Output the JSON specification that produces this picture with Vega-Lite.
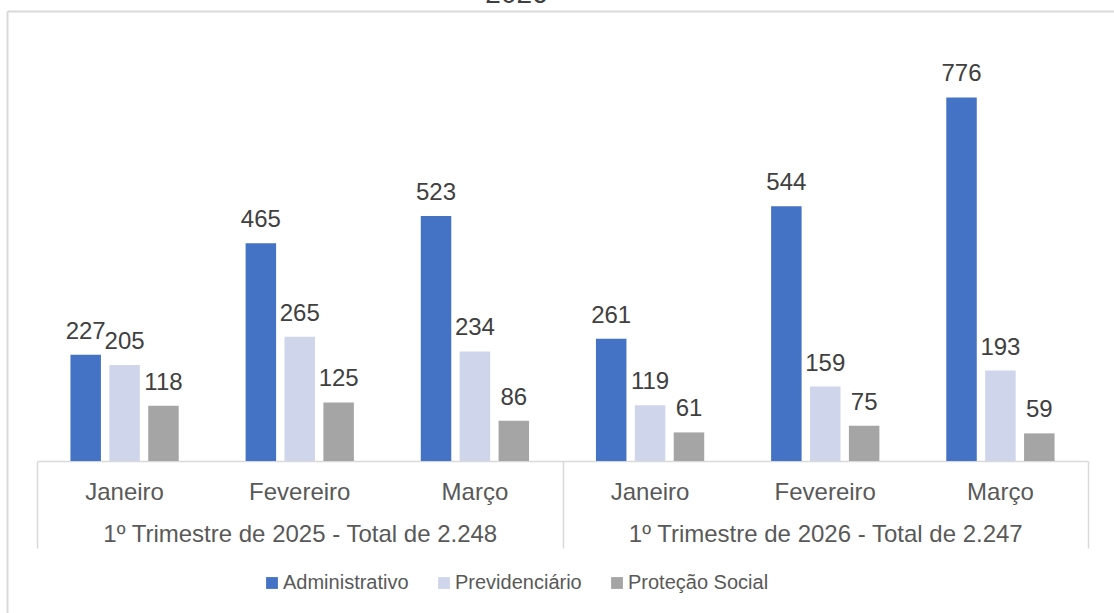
{
  "$schema": "https://vega.github.io/schema/vega-lite/v6.json",
  "width": 1107,
  "height": 602,
  "autosize": "none",
  "padding": {"left": 7, "top": 11, "right": 0, "bottom": 0},
  "background": "white",
  "title": {
    "text": "2026",
    "orient": "top",
    "anchor": "middle",
    "frame": "group",
    "baseline": "alphabetic",
    "offset": 0,
    "dy": 20,
    "dx": -44,
    "font": "Liberation Sans",
    "fontSize": 28,
    "fontWeight": "normal",
    "color": "#404040"
  },
  "data": {
    "values": [
      {"tri": "1º Trimestre de 2025 - Total de 2.248", "key": "2025|Janeiro", "serie": "Administrativo", "valor": 227},
      {"tri": "1º Trimestre de 2025 - Total de 2.248", "key": "2025|Janeiro", "serie": "Previdenciário", "valor": 205},
      {"tri": "1º Trimestre de 2025 - Total de 2.248", "key": "2025|Janeiro", "serie": "Proteção Social", "valor": 118},
      {"tri": "1º Trimestre de 2025 - Total de 2.248", "key": "2025|Fevereiro", "serie": "Administrativo", "valor": 465},
      {"tri": "1º Trimestre de 2025 - Total de 2.248", "key": "2025|Fevereiro", "serie": "Previdenciário", "valor": 265},
      {"tri": "1º Trimestre de 2025 - Total de 2.248", "key": "2025|Fevereiro", "serie": "Proteção Social", "valor": 125},
      {"tri": "1º Trimestre de 2025 - Total de 2.248", "key": "2025|Março", "serie": "Administrativo", "valor": 523},
      {"tri": "1º Trimestre de 2025 - Total de 2.248", "key": "2025|Março", "serie": "Previdenciário", "valor": 234},
      {"tri": "1º Trimestre de 2025 - Total de 2.248", "key": "2025|Março", "serie": "Proteção Social", "valor": 86},
      {"tri": "1º Trimestre de 2026 - Total de 2.247", "key": "2026|Janeiro", "serie": "Administrativo", "valor": 261},
      {"tri": "1º Trimestre de 2026 - Total de 2.247", "key": "2026|Janeiro", "serie": "Previdenciário", "valor": 119},
      {"tri": "1º Trimestre de 2026 - Total de 2.247", "key": "2026|Janeiro", "serie": "Proteção Social", "valor": 61},
      {"tri": "1º Trimestre de 2026 - Total de 2.247", "key": "2026|Fevereiro", "serie": "Administrativo", "valor": 544},
      {"tri": "1º Trimestre de 2026 - Total de 2.247", "key": "2026|Fevereiro", "serie": "Previdenciário", "valor": 159},
      {"tri": "1º Trimestre de 2026 - Total de 2.247", "key": "2026|Fevereiro", "serie": "Proteção Social", "valor": 75},
      {"tri": "1º Trimestre de 2026 - Total de 2.247", "key": "2026|Março", "serie": "Administrativo", "valor": 776},
      {"tri": "1º Trimestre de 2026 - Total de 2.247", "key": "2026|Março", "serie": "Previdenciário", "valor": 193},
      {"tri": "1º Trimestre de 2026 - Total de 2.247", "key": "2026|Março", "serie": "Proteção Social", "valor": 59}
    ]
  },
  "layer": [
    {
      "encoding": {
        "x": {
          "field": "key",
          "type": "nominal",
          "sort": null,
          "scale": {"range": [30, 1081], "paddingInner": 0, "paddingOuter": 0},
          "axis": {
            "orient": "bottom",
            "offset": -152,
            "title": null,
            "ticks": false,
            "grid": false,
            "domain": true,
            "domainColor": "#d9d9d9",
            "domainWidth": 1.5,
            "labelAngle": 0,
            "labelExpr": "split(datum.value, '|')[1]",
            "labelFont": "Liberation Sans",
            "labelFontSize": 24,
            "labelColor": "#595959",
            "labelPadding": 19
          }
        },
        "xOffset": {
          "field": "serie",
          "type": "nominal",
          "sort": ["Administrativo", "Previdenciário", "Proteção Social"],
          "scale": {"paddingInner": 0.216, "paddingOuter": 0.86}
        },
        "y": {
          "field": "valor",
          "type": "quantitative",
          "scale": {"domain": [0, 900], "range": [450, 28.4], "nice": false, "zero": true},
          "axis": null
        }
      },
      "layer": [
        {
          "mark": {"type": "bar"},
          "encoding": {
            "color": {
              "field": "serie",
              "type": "nominal",
              "sort": ["Administrativo", "Previdenciário", "Proteção Social"],
              "scale": {
                "domain": ["Administrativo", "Previdenciário", "Proteção Social"],
                "range": ["#4472C4", "#CFD5EA", "#A5A5A5"]
              },
              "legend": {
                "title": null,
                "orient": "none",
                "direction": "horizontal",
                "legendX": 255,
                "legendY": 562,
                "symbolType": "square",
                "symbolSize": 140,
                "symbolStrokeWidth": 0,
                "labelFont": "Liberation Sans",
                "labelFontSize": 20,
                "labelColor": "#595959",
                "labelOffset": 1,
                "columnPadding": 25
              }
            }
          }
        },
        {
          "mark": {
            "type": "text",
            "dy": -16,
            "align": "center",
            "baseline": "alphabetic",
            "font": "Liberation Sans",
            "fontSize": 24,
            "color": "#404040"
          },
          "encoding": {
            "text": {"field": "valor", "type": "quantitative"}
          }
        }
      ]
    },
    {
      "mark": {"type": "point", "opacity": 0},
      "encoding": {
        "x": {
          "field": "tri",
          "type": "nominal",
          "sort": null,
          "scale": {"type": "band", "range": [30, 1081], "paddingInner": 0, "paddingOuter": 0},
          "axis": {
            "orient": "bottom",
            "offset": -152,
            "title": null,
            "grid": false,
            "domain": false,
            "ticks": true,
            "tickBand": "extent",
            "tickSize": 87,
            "tickColor": "#d9d9d9",
            "tickWidth": 1.5,
            "labelAngle": 0,
            "labelLimit": 0,
            "labelFont": "Liberation Sans",
            "labelFontSize": 24,
            "labelColor": "#595959",
            "labelPadding": -26
          }
        }
      }
    },
    {
      "mark": {"type": "point", "opacity": 0},
      "encoding": {
        "x": {
          "field": "key",
          "type": "nominal",
          "axis": {
            "orient": "top",
            "title": null,
            "grid": false,
            "ticks": false,
            "labels": false,
            "domain": true,
            "domainColor": "#d9d9d9",
            "domainWidth": 2
          }
        },
        "y": {
          "field": "valor",
          "type": "quantitative",
          "axis": {
            "orient": "left",
            "title": null,
            "grid": false,
            "ticks": false,
            "labels": false,
            "domain": true,
            "domainColor": "#d9d9d9",
            "domainWidth": 2
          }
        }
      }
    }
  ],
  "resolve": {
    "scale": {"x": "independent", "y": "independent", "xOffset": "independent"},
    "axis": {"x": "independent", "y": "independent"}
  },
  "config": {
    "view": {"stroke": null},
    "axis": {"grid": false}
  }
}
